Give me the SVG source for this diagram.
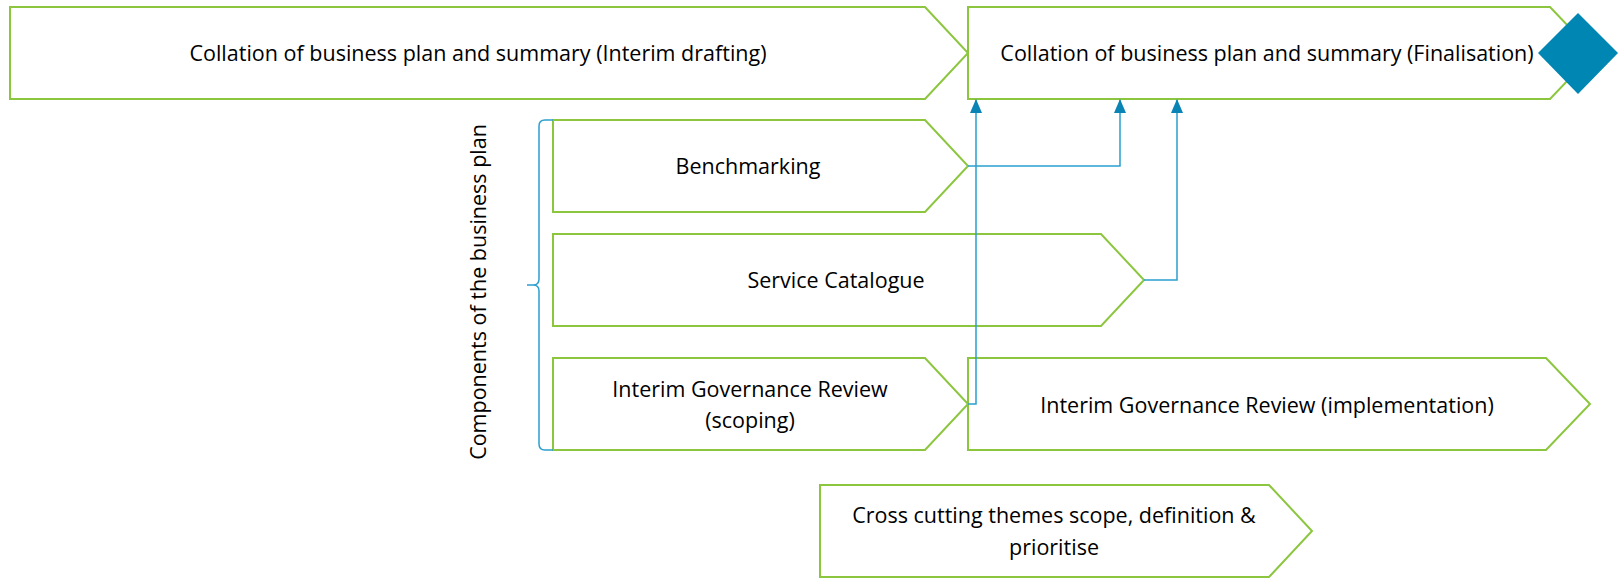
<svg xmlns="http://www.w3.org/2000/svg" width="1624" height="578" viewBox="0 0 1624 578">
<style>
.shape{fill:#ffffff;stroke:#8cc63f;stroke-width:2}
.lbl{font-family:"Open Sans","Liberation Sans",sans-serif;font-size:21.5px;fill:#000000;text-anchor:middle}
.conn{fill:none;stroke:#2b9fd0;stroke-width:1.5}
</style>
<defs>
<marker id="arr" viewBox="0 0 14 12" refX="13" refY="6" markerWidth="14" markerHeight="12" markerUnits="userSpaceOnUse" orient="auto">
<path d="M14,6 L0,0 L0,12 Z" fill="#0a84b4"/>
</marker>
</defs>
<rect width="1624" height="578" fill="#ffffff"/>
<g id="node-interim-drafting">
<path class="shape" d="M10,7 H925 L968,53 L925,99 H10 Z"/>
<text class="lbl" x="478" y="61">Collation of business plan and summary (Interim drafting)</text>
</g>
<g id="node-finalisation">
<path class="shape" d="M968,7 H1550 L1594,53 L1550,99 H968 Z"/>
<text class="lbl" x="1267" y="61">Collation of business plan and summary (Finalisation)</text>
</g>
<g id="node-diamond">
<path d="M1578,13 L1618,53 L1578,94 L1538,53 Z" fill="#0086b3"/>
</g>
<g id="node-benchmarking">
<path class="shape" d="M553,120 H925 L968,166 L925,212 H553 Z"/>
<text class="lbl" x="748" y="174">Benchmarking</text>
</g>
<g id="node-service-catalogue">
<path class="shape" d="M553,234 H1101 L1144,280 L1101,326 H553 Z"/>
<text class="lbl" x="836" y="288">Service Catalogue</text>
</g>
<g id="node-igr-scoping">
<path class="shape" d="M553,358 H925 L968,404 L925,450 H553 Z"/>
<text class="lbl" x="750" y="397">Interim Governance Review</text>
<text class="lbl" x="750" y="428">(scoping)</text>
</g>
<g id="node-igr-implementation">
<path class="shape" d="M968,358 H1546 L1590,404 L1546,450 H968 Z"/>
<text class="lbl" x="1267" y="413">Interim Governance Review (implementation)</text>
</g>
<g id="node-cross-cutting">
<path class="shape" d="M820,485 H1269 L1312,531 L1269,577 H820 Z"/>
<text class="lbl" x="1054" y="523">Cross cutting themes scope, definition &amp;</text>
<text class="lbl" x="1054" y="555">prioritise</text>
</g>
<g id="group-label">
<path d="M553,120 H545 Q539,120 539,126 V279 Q539,285 533,285 H527 H533 Q539,285 539,291 V444 Q539,450 545,450 H553" fill="none" stroke="#2b9fd0" stroke-width="1.5"/>
<text class="lbl" transform="translate(486,292) rotate(-90)" x="0" y="0">Components of the business plan</text>
</g>
<g id="connectors">
<path class="conn" d="M968,404 H976 V100" marker-end="url(#arr)"/>
<path class="conn" d="M968,166 H1120 V100" marker-end="url(#arr)"/>
<path class="conn" d="M1144,280 H1177 V100" marker-end="url(#arr)"/>
</g>
</svg>
